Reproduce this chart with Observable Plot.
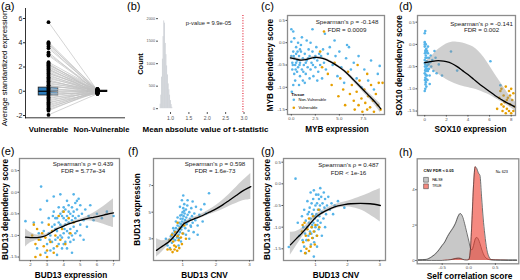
<!DOCTYPE html>
<html>
<head>
<meta charset="utf-8">
<script src="https://cdn.jsdelivr.net/npm/d3@7"></script>
<script src="https://cdn.jsdelivr.net/npm/@observablehq/plot@0.6"></script>
<style>
html,body{margin:0;padding:0;background:#fff;}
#fig{position:relative;width:520px;height:280px;overflow:hidden;font-family:"Liberation Sans",Arial,sans-serif;}
.tag{position:absolute;font-size:11px;line-height:11px;color:#000;white-space:nowrap;}
</style>
</head>
<body>
<div id="fig"></div>
<script>
// ---------- (a) paired expression ----------
const aCategories = ["Vulnerable", "Non-Vulnerable"];
const aVulnerable = [5.7, 4.05, 3.95, 3.85, 3.7, 3.55, 3.2, 3.05, 2.95, 2.4, 2.3, 2.2, 2.15, 2.05, 1.95, 1.85, 1.8, 1.7, 1.6, 1.5, 1.45, 1.35, 1.25, 1.15, 1.05, 0.95, 0.85, 0.8, 0.7, 0.6, 0.5, 0.45, 0.35, 0.25, 0.15, 0.05, -0.05, -0.15, -0.2, -0.3, -0.4, -0.5, -0.6, -0.7, -0.8, -0.9, -1.0, -1.1, -1.2, -1.3, -1.4, -1.5, -1.6, -1.95];
const aNonVulnerable = [0.05, 0.1, -0.05, 0.15, 0.0, 0.08, -0.1, 0.12, 0.02, 0.18, -0.15, 0.06, 0.2, -0.02, 0.1, -0.2, 0.04, 0.14, -0.08, 0.0, 0.16, -0.12, 0.07, -0.04, 0.11, -0.18, 0.03, 0.09, -0.06, 0.13, -0.1, 0.01, 0.17, -0.14, 0.05, -0.03, 0.08, -0.22, 0.12, -0.01, 0.06, -0.16, 0.1, -0.07, 0.02, -0.19, 0.15, -0.05, 0.0, -0.12, 0.09, -0.09, 0.04, -0.2];
const aBoxQ1 = [-0.35, -0.05];
const aBoxMedian = [0.0, 0.0];
const aBoxQ3 = [0.3, 0.04];
const aYTicks = [-2, 0, 2, 4, 6];
const aYTitle = "Average standardized expression";

// ---------- (b) histogram ----------
const bBinStart = [0.72, 0.74, 0.76, 0.78, 0.80, 0.82, 0.84, 0.86, 0.88, 0.90, 0.92, 0.94, 0.96, 0.98, 1.00, 1.02, 1.04];
const bBinEnd   = [0.74, 0.76, 0.78, 0.80, 0.82, 0.84, 0.86, 0.88, 0.90, 0.92, 0.94, 0.96, 0.98, 1.00, 1.02, 1.04, 1.06];
const bCounts   = [100, 300, 700, 1100, 1600, 1950, 1900, 1450, 1200, 950, 750, 550, 420, 300, 180, 90, 30];
const bObserved = [2.97];
const bPValue = "p-value = 9.9e-05";
const bXTicks = [1, 1.5, 2, 2.5, 3];
const bYTicks = [0, 500, 1000, 1500, 2000];

// ---------- (c) MYB ----------
const cBlue = [[0.0,-0.3],[0.1,-0.45],[0.2,-0.2],[0.1,-0.6],[0.3,-0.35],[0.2,0.25],[0.0,0.02],[0.4,-0.5],[0.5,-0.25],[0.3,-0.7],[0.6,-0.4],[0.5,-0.1],[0.7,-0.55],[0.8,-0.3],[0.6,-0.65],[0.9,-0.45],[1.0,-0.2],[1.1,-0.6],[0.9,-0.75],[1.2,-0.35],[1.3,-0.5],[1.0,-0.05],[1.4,-0.25],[1.5,-0.7],[1.6,-0.4],[1.2,-0.85],[1.7,-0.55],[1.8,-0.15],[1.9,-0.3],[2.0,-0.6],[2.1,-0.45],[1.6,0.05],[2.2,-0.2],[2.3,-0.75],[2.4,-0.35],[2.5,-0.55],[2.6,-0.1],[2.7,-0.4],[2.8,-0.65],[2.9,-0.25],[3.0,-0.5],[3.1,-0.3],[3.2,-0.8],[3.3,-0.15],[3.4,-0.45],[3.6,-0.6],[3.8,-0.25],[0.4,-0.85],[0.2,-0.95],[0.8,-0.95],[1.4,-0.9],[0.05,-1.1],[0.3,0.1],[0.7,0.0],[1.1,0.12],[2.0,0.0],[0.5,-0.45],[1.5,-0.45],[2.5,-0.3],[0.15,-0.5],[0.9,-0.15],[1.9,-0.8],[2.7,-0.85],[0.25,-0.3],[0.65,-0.2],[1.25,-0.65],[1.75,-0.35],[2.25,-0.5],[0.45,-0.6],[0.85,-0.5],[4.0,-0.1],[4.3,-0.5],[4.6,-0.3],[4.8,-0.75],[5.0,-0.2],[5.2,-0.55],[5.5,-0.9],[5.7,-0.35],[6.0,-0.1],[6.2,-0.6],[6.5,-0.45],[6.8,-0.8],[7.0,-0.3],[7.3,-1.0],[7.6,-0.6],[8.0,-0.85],[8.3,-0.4],[8.6,-1.05],[9.0,-0.7],[9.2,-0.52],[3.5,0.2],[4.5,0.05],[5.8,-0.05],[2.2,0.3],[0.0,0.3]];
const cOrange = [[3.2,-0.55],[3.8,-0.7],[4.2,-0.95],[4.5,-0.45],[4.9,-1.2],[5.1,-0.8],[5.4,-1.05],[5.6,-1.4],[5.9,-0.65],[6.1,-1.15],[6.3,-0.95],[6.5,-1.3],[6.6,-1.5],[6.8,-1.1],[7.0,-1.4],[7.1,-0.85],[7.3,-1.25],[7.4,-1.55],[7.6,-1.05],[7.7,-1.35],[7.9,-1.5],[8.0,-1.2],[8.2,-1.45],[8.3,-0.95],[8.5,-1.3],[8.6,-1.55],[8.8,-1.15],[9.0,-1.4],[9.1,-0.9],[9.3,-1.5],[9.5,-0.9],[7.9,-0.7],[6.9,-0.5],[3.0,-0.2],[3.4,0.25]];
const cSmoothX = [-0.1, 0.5, 1.0, 1.5, 2.0, 2.5, 3.0, 3.5, 4.0, 4.5, 5.0, 5.5, 6.0, 6.5, 7.0, 7.5, 8.0, 8.5, 9.0, 9.3];
const cSmoothY = [-0.34, -0.37, -0.39, -0.38, -0.35, -0.33, -0.34, -0.37, -0.42, -0.48, -0.55, -0.63, -0.73, -0.84, -0.95, -1.06, -1.17, -1.28, -1.4, -1.48];
const cLower = [-0.39, -0.40, -0.415, -0.405, -0.375, -0.355, -0.365, -0.395, -0.445, -0.51, -0.58, -0.665, -0.77, -0.885, -1.0, -1.115, -1.23, -1.35, -1.485, -1.58];
const cUpper = [-0.29, -0.34, -0.365, -0.355, -0.325, -0.305, -0.315, -0.345, -0.395, -0.45, -0.52, -0.595, -0.69, -0.795, -0.9, -1.005, -1.11, -1.21, -1.315, -1.38];
const cStats = ["Spearman's \u03c1 = -0.148", "FDR = 0.0009"];
const cTitles = ["MYB expression", "MYB dependency score"];
const legendTitle = "Tissue";
const legendLabels = ["Non-Vulnerable", "Vulnerable"];

// ---------- (d) SOX10 ----------
const dBlue = [[0.0,-0.05],[0.05,-0.15],[0.1,-0.25],[0.0,-0.35],[0.05,-0.45],[0.1,-0.55],[0.0,-0.65],[0.05,-0.75],[0.1,-0.85],[0.15,-0.1],[0.2,-0.3],[0.15,-0.5],[0.2,-0.7],[0.25,-0.4],[0.3,-0.2],[0.3,-0.6],[0.35,-0.45],[0.4,-0.3],[0.4,-0.55],[0.5,-0.4],[0.0,0.0],[0.02,-0.2],[0.07,-0.3],[0.12,-0.4],[0.02,-0.5],[0.07,-0.6],[0.12,-0.7],[0.02,-0.8],[0.07,-0.9],[0.17,-0.6],[0.22,-0.15],[0.27,-0.55],[0.0,0.05],[0.1,0.0],[0.05,0.3],[0.0,0.25],[0.15,-0.95],[0.0,-1.05],[0.6,-0.5],[0.7,-0.35],[0.8,-0.6],[0.45,-0.7],[0.55,-0.25],[0.25,-0.8],[0.05,-1.0],[0.3,-0.05],[0.12,-0.18],[0.18,-0.38],[0.08,-0.68],[0.22,-0.48],[0.46,-0.89],[0.0,-0.42],[0.05,-0.58],[0.1,-0.12],[0.15,-0.78],[1.0,-0.3],[1.3,-0.45],[1.6,-0.7],[2.43,-0.16],[3.0,-0.59],[6.08,-0.38],[7.0,-0.92],[1.1,-0.65],[0.9,-0.15]];
const dOrange = [[6.9,-1.2],[7.0,-1.05],[7.1,-1.35],[7.2,-1.5],[7.3,-1.15],[7.4,-1.3],[7.5,-0.95],[7.6,-1.45],[7.7,-1.2],[7.8,-1.05],[7.9,-1.35],[8.0,-1.55],[8.1,-1.25],[8.2,-1.1],[8.3,-1.4],[7.5,-1.55],[7.8,-1.5],[7.3,-1.4],[8.0,-1.0],[7.6,-1.25],[6.7,-1.45],[8.2,-1.5],[7.1,-1.0],[7.9,-1.15]];
const dSmoothX = [0, 0.5, 1, 1.5, 2, 2.5, 3, 3.5, 4, 4.5, 5, 5.5, 6, 6.5, 7, 7.5, 8, 8.4];
const dSmoothY = [-0.41, -0.39, -0.37, -0.37, -0.39, -0.43, -0.5, -0.59, -0.68, -0.78, -0.88, -0.97, -1.06, -1.15, -1.23, -1.3, -1.36, -1.41];
const dUpper = [-0.4, -0.3, -0.17, -0.07, 0.01, 0.05, 0.05, 0.03, -0.01, -0.06, -0.16, -0.3, -0.48, -0.67, -0.85, -1.03, -1.2, -1.3];
const dLower = [-0.44, -0.53, -0.62, -0.71, -0.79, -0.85, -0.9, -0.94, -0.97, -1.0, -1.04, -1.09, -1.14, -1.21, -1.28, -1.35, -1.43, -1.5];
const dStats = ["Spearman's \u03c1 = -0.141", "FDR = 0.002"];
const dTitles = ["SOX10 expression", "SOX10 dependency score"];

// ---------- (e) BUD13 expression vs dependency ----------
const eBlue = [[3.0,-1.2],[3.2,-1.0],[3.3,-0.8],[3.4,-1.3],[3.5,-0.6],[3.5,-1.1],[3.6,-0.9],[3.7,-0.7],[3.7,-1.2],[3.8,-0.5],[3.8,-1.0],[3.9,-0.8],[3.9,-1.3],[4.0,-0.6],[4.0,-0.95],[4.1,-0.4],[4.1,-0.75],[4.1,-1.15],[4.2,-0.55],[4.2,-0.9],[4.3,-0.3],[4.3,-0.7],[4.3,-1.05],[4.4,-0.5],[4.4,-0.85],[4.5,-0.35],[4.5,-0.65],[4.5,-1.0],[4.6,-0.45],[4.6,-0.8],[4.7,-0.25],[4.7,-0.6],[4.8,-0.4],[4.8,-0.9],[4.9,-0.55],[5.0,-0.3],[5.0,-0.75],[5.1,-0.5],[5.2,-0.65],[5.3,-0.4],[2.8,-0.9],[2.9,-1.4],[3.1,-0.6],[3.2,-1.35],[3.4,-0.45],[3.6,-1.45],[2.6,-1.1],[2.7,-0.7],[3.3,-1.15],[3.5,-0.85],[3.7,-0.35],[3.8,-0.75],[3.9,-0.55],[4.0,-1.2],[4.2,-0.2],[4.2,-1.3],[4.4,-1.15],[4.6,-1.1],[4.8,-0.2],[5.0,-1.0],[5.4,-0.8],[5.5,-0.55],[5.6,-0.3],[5.8,-0.65],[6.0,-0.5],[6.3,-0.6],[6.6,-0.45],[7.0,-0.55],[2.2,-0.7],[2.4,-1.3],[2.5,-0.95],[2.6,-0.4],[2.64,0.13],[3.0,-0.2],[3.4,-0.1],[3.8,-0.05],[4.5,-1.4],[5.2,-1.1],[4.0,-0.35],[4.6,-0.05],[4.9,-0.15],[3.1,-0.95],[3.6,-0.6],[4.3,-0.45],[4.7,-0.95],[3.9,-1.05],[1.7,-0.67],[3.35,-0.55],[3.65,-1.05],[4.15,-0.65],[4.55,-0.55],[4.05,-0.85],[3.45,-0.75],[3.95,-0.45],[4.35,-0.95],[3.15,-1.1]];
const eOrange = [[2.1,-1.0],[2.3,-1.2],[2.4,-0.85],[2.5,-1.1],[2.6,-1.45],[2.7,-0.95],[2.8,-1.25],[2.9,-1.05],[3.0,-1.35],[3.1,-0.75],[3.2,-1.15],[3.3,-0.9],[3.4,-1.4],[3.5,-1.0],[3.6,-1.25],[3.7,-0.55],[3.8,-1.1],[3.9,-0.85],[4.1,-1.2],[4.3,-0.6],[4.4,-0.95],[4.6,-0.7],[2.3,-1.5],[3.0,-1.5],[4.0,-0.45],[2.2,-0.75]];
const eSmoothX = [1.7, 2.0, 2.4, 2.8, 3.0, 3.3, 3.6, 3.9, 4.2, 4.6, 5.0, 5.4, 5.8, 6.2, 6.6, 7.0];
const eSmoothY = [-1.04, -1.05, -1.05, -1.02, -0.99, -0.92, -0.85, -0.8, -0.75, -0.7, -0.65, -0.61, -0.58, -0.55, -0.51, -0.48];
const eUpper = [-0.85, -0.93, -0.99, -0.98, -0.96, -0.89, -0.82, -0.77, -0.72, -0.67, -0.62, -0.56, -0.48, -0.38, -0.27, -0.15];
const eLower = [-1.27, -1.17, -1.11, -1.06, -1.02, -0.95, -0.88, -0.83, -0.78, -0.73, -0.68, -0.66, -0.68, -0.72, -0.77, -0.82];
const eStats = ["Spearman's \u03c1 = 0.439", "FDR = 5.77e-34"];
const eTitles = ["BUD13 expression", "BUD13 dependency score"];

// ---------- (f) BUD13 CNV vs expression ----------
const fBlue = [[0.60,2.9],[0.65,3.2],[0.68,2.7],[0.70,3.4],[0.72,3.0],[0.75,3.6],[0.77,3.3],[0.78,2.9],[0.80,3.8],[0.82,3.5],[0.83,3.1],[0.85,4.0],[0.87,3.7],[0.88,3.3],[0.90,4.2],[0.91,3.9],[0.92,3.5],[0.94,4.5],[0.95,4.1],[0.96,3.7],[0.97,4.8],[0.98,4.3],[0.99,3.9],[1.00,5.0],[1.00,4.5],[1.01,4.0],[1.02,5.3],[1.03,4.7],[1.04,4.2],[1.05,5.6],[1.06,4.9],[1.07,4.4],[1.08,3.8],[1.10,5.2],[1.11,4.6],[1.12,4.1],[1.14,5.5],[1.15,4.8],[1.17,4.3],[1.18,3.6],[1.20,5.0],[1.22,4.5],[1.24,4.0],[1.26,5.3],[1.28,4.7],[1.30,4.2],[1.33,3.5],[1.35,4.9],[1.38,4.4],[1.40,5.4],[1.45,4.0],[1.50,4.8],[1.55,5.2],[1.60,4.3],[1.65,5.6],[1.79,6.42],[1.70,4.9],[0.55,2.5],[0.62,2.3],[0.72,3.8],[0.85,4.6],[0.92,5.4],[0.98,5.9],[1.02,3.4],[1.10,3.3],[1.2,3.0],[1.25,3.9],[0.95,2.8],[0.88,2.5],[1.02,6.25],[1.3,5.8],[0.5,3.0],[1.45,3.3],[0.93,4.75],[1.05,5.1],[0.9,3.05],[1.15,5.9],[0.8,4.3]];
const fOrange = [[0.55,2.2],[0.64,2.2],[0.76,2.2],[0.72,2.8],[0.70,2.0],[0.78,3.5],[0.80,2.4],[0.84,2.1],[0.85,3.2],[0.88,2.9],[0.90,2.3],[0.92,3.8],[0.95,3.1],[0.98,2.6],[1.00,3.4],[1.05,4.0],[0.68,3.3],[0.62,2.9],[0.85,4.2],[1.1,3.0],[0.75,2.5]];
const fSmoothX = [0.22, 0.4, 0.6, 0.8, 0.95, 1.05, 1.2, 1.4, 1.6, 1.8, 2.0, 2.2, 2.4, 2.6, 2.8, 3.04];
const fSmoothY = [2.13, 2.45, 2.8, 3.35, 3.85, 4.15, 4.35, 4.55, 4.75, 5.0, 5.25, 5.55, 5.9, 6.25, 6.6, 6.92];
const fUpper = [3.0, 2.85, 3.0, 3.5, 3.97, 4.27, 4.47, 4.67, 4.9, 5.18, 5.5, 5.9, 6.35, 6.85, 7.35, 7.9];
const fLower = [1.62, 2.05, 2.6, 3.2, 3.73, 4.03, 4.23, 4.43, 4.6, 4.82, 5.0, 5.2, 5.45, 5.65, 5.85, 5.95];
const fStats = ["Spearman's \u03c1 = 0.598", "FDR = 1.6e-73"];
const fTitles = ["BUD13 CNV", "BUD13 expression"];

// ---------- (g) BUD13 CNV vs dependency ----------
const gBlue = [[0.60,-1.3],[0.62,-1.0],[0.65,-1.45],[0.68,-1.15],[0.70,-0.85],[0.72,-1.3],[0.74,-1.0],[0.76,-0.7],[0.78,-1.2],[0.80,-0.9],[0.82,-0.55],[0.83,-1.1],[0.85,-0.8],[0.86,-1.4],[0.88,-0.45],[0.89,-1.0],[0.90,-0.7],[0.92,-1.25],[0.93,-0.35],[0.94,-0.9],[0.95,-0.6],[0.97,-1.1],[0.98,-0.8],[1.00,-0.5],[1.00,-1.0],[1.02,-0.25],[1.03,-0.7],[1.04,-1.2],[1.05,-0.45],[1.07,-0.85],[1.08,-0.6],[1.10,-1.05],[1.11,-0.35],[1.12,-0.75],[1.14,-0.5],[1.16,-0.9],[1.18,-0.3],[1.20,-0.65],[1.22,-0.45],[1.25,-0.8],[1.28,-0.55],[1.30,-0.35],[1.33,-0.7],[1.36,-0.5],[1.40,-0.3],[1.45,-0.6],[1.50,-0.45],[1.55,-0.7],[1.6,-0.5],[1.7,-0.4],[0.38,0.12],[0.55,-1.55],[0.5,-1.2],[0.45,-0.9],[0.7,-1.6],[0.95,-1.68],[1.05,-1.45],[1.2,-1.2],[0.85,-0.2],[0.95,-0.15],[1.15,-0.1],[1.3,-1.0],[0.65,-0.6],[0.75,-0.4],[0.58,-0.75],[0.96,-1.35],[1.09,-0.25],[1.26,-0.2],[0.17,-1.46],[0.9,-0.95],[1.0,-0.75],[0.8,-0.65],[1.06,-0.95],[0.87,-1.15],[1.13,-0.6],[1.9,-0.55]];
const gOrange = [[0.58,-1.1],[0.62,-1.35],[0.66,-0.9],[0.70,-1.2],[0.72,-1.5],[0.75,-1.05],[0.78,-1.3],[0.80,-0.8],[0.83,-1.15],[0.85,-1.45],[0.88,-1.0],[0.90,-1.25],[0.93,-0.75],[0.95,-1.1],[0.98,-1.4],[1.0,-0.95],[1.05,-1.2],[1.1,-0.6],[1.12,-1.0],[0.68,-1.6],[0.8,-1.55],[0.6,-0.95]];
const gSmoothX = [0.22, 0.4, 0.6, 0.8, 0.95, 1.1, 1.3, 1.5, 1.7, 1.9, 2.1, 2.4, 2.7, 3.02];
const gSmoothY = [-1.41, -1.27, -1.12, -0.95, -0.82, -0.72, -0.63, -0.56, -0.51, -0.48, -0.46, -0.45, -0.46, -0.5];
const gUpper = [-1.12, -1.1, -1.02, -0.88, -0.76, -0.66, -0.58, -0.51, -0.46, -0.42, -0.38, -0.3, -0.21, -0.11];
const gLower = [-1.65, -1.44, -1.22, -1.02, -0.88, -0.78, -0.68, -0.61, -0.56, -0.54, -0.54, -0.6, -0.72, -0.88];
const gStats = ["Spearman's \u03c1 = 0.487", "FDR < 1e-16"];
const gTitles = ["BUD13 CNV", "BUD13 dependency score"];

// ---------- (h) densities ----------
const hX     = [-0.95, -0.8, -0.7, -0.6, -0.5, -0.45, -0.4, -0.35, -0.3, -0.25, -0.2, -0.16, -0.12, -0.08, -0.04, 0.0, 0.03, 0.06, 0.09, 0.12, 0.15, 0.18, 0.21, 0.24, 0.27, 0.3, 0.34, 0.38, 0.42, 0.5, 0.6, 0.75, 0.9];
const hFalse = [0.04, 0.06, 0.2, 0.45, 0.85, 1.05, 1.35, 1.6, 1.82, 2.1, 2.5, 2.65, 2.5, 2.1, 1.6, 1.1, 0.7, 0.6, 0.85, 1.2, 1.3, 1.2, 0.95, 0.65, 0.4, 0.22, 0.1, 0.05, 0.03, 0.03, 0.03, 0.03, 0.03];
const hTrue  = [0, 0, 0, 0, 0, 0.01, 0.02, 0.04, 0.07, 0.11, 0.13, 0.12, 0.07, 0.03, 0.02, 0.05, 0.6, 2.3, 4.3, 5.3, 5.2, 4.95, 4.8, 3.6, 2.4, 1.5, 0.6, 0.2, 0.05, 0.02, 0.01, 0, 0];
const hLegendTitle = "CNV FDR < 0.05";
const hGroups = ["FALSE", "TRUE"];
const hN = "N= 623";
const hXTitle = "Self correlation score";

// ---------- layout / drawing ----------
const FONT = "'Liberation Sans', Arial, Helvetica, sans-serif";
const BLUE = "#56B4E9", ORANGE = "#E69F00";
const fmt1 = d => d.toFixed(1), fmt0 = d => String(d);
const px = d => d[0], py = d => d[1];
const C = {textAnchor: "middle", lineAnchor: "middle"};
const L = {textAnchor: "start", lineAnchor: "middle"};
const fig = document.getElementById("fig");
function sty(fs, color) { return {background: "transparent", fontFamily: FONT, fontSize: fs + "px", color, overflow: "visible"}; }
function place(node, left, top) {
  node.style.position = "absolute"; node.style.left = left + "px"; node.style.top = top + "px";
  fig.appendChild(node);
}
function tag(t, left, top) {
  const d = document.createElement("div"); d.className = "tag"; d.textContent = t;
  d.style.left = left + "px"; d.style.top = top + "px"; fig.appendChild(d);
}

// (a)
{
  const idx = aVulnerable.map((_, i) => i);
  const svg = Plot.plot({
    width: 124, height: 140, marginLeft: 25, marginRight: 0, marginTop: 8, marginBottom: 22.7,
    style: sty(7, "#222"),
    x: {domain: [1, 2], range: [48, 97], axis: null},
    y: {domain: [-2, 6], range: [115, 18]},
    marks: [
      Plot.rect([0], {x1: i => i + 0.8, x2: i => i + 1.2, y1: i => aBoxQ1[i], y2: i => aBoxQ3[i], fill: "#2b7bba", stroke: "#1a1a1a", strokeWidth: 0.8}),
      Plot.rect([1], {x1: i => i + 0.8, x2: i => i + 1.2, y1: i => aBoxQ1[i], y2: i => aBoxQ3[i], fill: "#fff", stroke: "#000", strokeWidth: 1}),
      Plot.ruleY([0, 1], {y: i => aBoxMedian[i], x1: i => i + 0.8, x2: i => i + 1.2, stroke: "#000", strokeWidth: 1.2}),
      Plot.link(idx, {x1: 1, y1: i => aVulnerable[i], x2: 2, y2: i => aNonVulnerable[i], stroke: "#c2c2c2", strokeWidth: 0.7}),
      Plot.dot(idx, {x: 1, y: i => aVulnerable[i], r: 1.9, fill: "#000"}),
      Plot.dot(idx, {x: 2, y: i => aNonVulnerable[i], r: 1.9, fill: "#000"}),
      Plot.frame({anchor: "left", stroke: "#000", strokeWidth: 0.8}),
      Plot.frame({anchor: "bottom", stroke: "#000", strokeWidth: 0.8}),
      Plot.axisY({ticks: aYTicks, tickFormat: fmt0, tickSize: 2, tickPadding: 1, label: null}),
      Plot.text([aCategories[0]], {x: 1, frameAnchor: "bottom", dy: 12, fontSize: 7.8, fontWeight: "bold", fill: "#000", ...C}),
      Plot.text([aCategories[1]], {x: 2, frameAnchor: "bottom", dx: 4, dy: 12, fontSize: 7.6, fontWeight: "bold", fill: "#000", ...C}),
      Plot.text([aYTitle], {frameAnchor: "left", rotate: -90, dx: -21, dy: 5.4, fontSize: 7.8, fill: "#000", ...C})
    ]
  });
  place(svg, 0, 0);
}

// (b)
{
  const idx = bCounts.map((_, i) => i);
  const svg = Plot.plot({
    width: 130, height: 140, marginLeft: 33, marginRight: 10, marginTop: 15, marginBottom: 28,
    style: sty(3.8, "#555"),
    x: {domain: [0.673, 3.04]}, y: {domain: [-85, 2070]},
    marks: [
      Plot.rect(idx, {x1: i => bBinStart[i], x2: i => bBinEnd[i], y1: 0, y2: i => bCounts[i], fill: "#c6cad0"}),
      Plot.ruleX(bObserved, {stroke: "#e0182d", strokeWidth: 1.1, strokeDasharray: "1,1.6"}),
      Plot.axisX({ticks: bXTicks, tickFormat: fmt1, tickSize: 2, tickPadding: 1.5, fontSize: 5, label: null}),
      Plot.axisY({ticks: bYTicks, tickFormat: fmt0, tickSize: 2, tickPadding: 1.5, label: null}),
      Plot.text([bPValue], {frameAnchor: "top-right", dx: -37, dy: 8, fontSize: 5.8, fill: "#1a1a1a", ...C}),
      Plot.text(["Count"], {frameAnchor: "left", rotate: -90, dx: -18, fontSize: 7.5, fontWeight: "bold", fill: "#000", ...C}),
      Plot.text(["Mean absolute value of t-statistic"], {frameAnchor: "bottom", dx: 3.5, dy: 17.3, fontSize: 8, fontWeight: "bold", fill: "#000", ...C})
    ]
  });
  place(svg, 125, 0);
}

function scatter(o) {
  const idx = o.sx.map((_, i) => i);
  const marks = [
    Plot.dot(o.blue, {x: px, y: py, r: 1.3, fill: BLUE, clip: true}),
    Plot.dot(o.orange, {x: px, y: py, r: 1.3, fill: ORANGE, clip: true}),
    Plot.areaY(idx, {x: i => o.sx[i], y1: i => o.lo[i], y2: i => o.hi[i], fill: "#8c8c8c", fillOpacity: 0.42, curve: "catmull-rom"}),
    Plot.line(idx, {x: i => o.sx[i], y: i => o.sy[i], stroke: "#000", strokeWidth: 1.3, curve: "catmull-rom"}),
    Plot.frame({stroke: "#8c8c8c", strokeWidth: 1.3}),
    Plot.axisX({ticks: o.xt, tickFormat: o.xf, tickSize: 1.5, tickPadding: 1, label: null}),
    Plot.axisY({ticks: o.yt, tickFormat: o.yf, tickSize: 1.5, tickPadding: 1, label: null}),
    Plot.text([o.titles[1]], {frameAnchor: "left", rotate: -90, dx: o.ytdx, fontSize: 8.2, fontWeight: "bold", fill: "#000", ...C}),
    Plot.text([o.titles[0]], {frameAnchor: "bottom", dx: o.xtdx || 0, dy: o.xtdy, fontSize: 8.2, fontWeight: "bold", fill: "#000", ...C}),
    Plot.text([o.stats[0]], {frameAnchor: "top-right", dx: -o.adx, dy: o.ady[0], fontSize: 6.2, fill: "#1a1a1a", ...C}),
    Plot.text([o.stats[1]], {frameAnchor: "top-right", dx: -o.adx, dy: o.ady[1], fontSize: 6.2, fill: "#1a1a1a", ...C})
  ];
  if (o.legend) {
    marks.push(
      Plot.text([legendTitle], {frameAnchor: "bottom-left", dx: 3.7, dy: -20, fontSize: 4.2, fontWeight: "bold", fill: "#000", ...L}),
      Plot.dot([0], {frameAnchor: "bottom-left", dx: 6.3, dy: -14.7, r: 1.3, fill: BLUE}),
      Plot.dot([0], {frameAnchor: "bottom-left", dx: 6.3, dy: -6.7, r: 1.3, fill: ORANGE}),
      Plot.text([legendLabels[0]], {frameAnchor: "bottom-left", dx: 11, dy: -14.7, fontSize: 4, fill: "#000", ...L}),
      Plot.text([legendLabels[1]], {frameAnchor: "bottom-left", dx: 11, dy: -6.7, fontSize: 4, fill: "#000", ...L})
    );
  }
  const svg = Plot.plot({
    width: o.w, height: o.h, marginLeft: o.ml, marginRight: o.mr, marginTop: o.mt, marginBottom: o.mb,
    style: sty(4.4, "#4d4d4d"),
    x: {domain: o.xd}, y: {domain: o.yd},
    marks
  });
  place(svg, o.left, o.top);
}

const depTicks = [-1.5, -1, -0.5, 0, 0.5];
scatter({left: 255, top: 0, w: 133, h: 140, ml: 32, mr: 4, mt: 15, mb: 26, xd: [-0.4, 9.7], yd: [-1.61, 0.61],
  xt: [0, 2.5, 5, 7.5], xf: fmt1, yt: depTicks, yf: fmt1, blue: cBlue, orange: cOrange,
  sx: cSmoothX, sy: cSmoothY, lo: cLower, hi: cUpper, titles: cTitles, stats: cStats,
  ytdx: -17, xtdx: 1, xtdy: 15.3, adx: 37.5, ady: [6.7, 15], legend: true});
scatter({left: 388, top: 0, w: 132, h: 140, ml: 29, mr: 5, mt: 15, mb: 25, xd: [-0.67, 8.4], yd: [-1.6, 0.65],
  xt: [0, 2, 4, 6, 8], xf: fmt0, yt: depTicks, yf: fmt1, blue: dBlue, orange: dOrange,
  sx: dSmoothX, sy: dSmoothY, lo: dLower, hi: dUpper, titles: dTitles, stats: dStats,
  ytdx: -17.7, xtdx: 4, xtdy: 14.3, adx: 34, ady: [8.3, 15]});
scatter({left: 0, top: 140, w: 125, h: 140, ml: 19, mr: 6, mt: 18, mb: 20, xd: [1.34, 7.36], yd: [-1.58, 0.78],
  xt: [2, 3, 4, 5, 6, 7], xf: fmt0, yt: depTicks, yf: fmt1, blue: eBlue, orange: eOrange,
  sx: eSmoothX, sy: eSmoothY, lo: eLower, hi: eUpper, titles: eTitles, stats: eStats,
  ytdx: -14, xtdx: 1.5, xtdy: 15.2, adx: 36.5, ady: [5.3, 12.7]});
scatter({left: 125, top: 140, w: 130, h: 140, ml: 28, mr: 2, mt: 18, mb: 20, xd: [0.13, 3.12], yd: [1.37, 9.03],
  xt: [1, 2, 3], xf: fmt0, yt: [3, 5, 7], yf: fmt0, blue: fBlue, orange: fOrange,
  sx: fSmoothX, sy: fSmoothY, lo: fLower, hi: fUpper, titles: fTitles, stats: fStats,
  ytdx: -16.3, xtdx: 1, xtdy: 15.2, adx: 38.5, ady: [5.3, 12.7]});
scatter({left: 255, top: 140, w: 133, h: 140, ml: 28, mr: 3, mt: 18, mb: 20, xd: [0.006, 3.18], yd: [-1.77, 0.585],
  xt: [1, 2, 3], xf: fmt0, yt: depTicks, yf: fmt1, blue: gBlue, orange: gOrange,
  sx: gSmoothX, sy: gSmoothY, lo: gLower, hi: gUpper, titles: gTitles, stats: gStats,
  ytdx: -16.3, xtdx: 1.5, xtdy: 15.2, adx: 37, ady: [7, 14.7]});

// (h)
{
  const idx = hX.map((_, i) => i);
  const svg = Plot.plot({
    width: 132, height: 140, marginLeft: 28.7, marginRight: 1.7, marginTop: 18.3, marginBottom: 16.7,
    style: sty(4.4, "#4d4d4d"),
    x: {domain: [-0.97, 0.94]}, y: {domain: [-0.19, 5.75]},
    marks: [
      Plot.areaY(idx, {x: i => hX[i], y1: 0, y2: i => hFalse[i], fill: "#9a9a9a", fillOpacity: 0.55, curve: "monotone-x"}),
      Plot.lineY(idx, {x: i => hX[i], y: i => hFalse[i], stroke: "#333", strokeWidth: 0.7, curve: "monotone-x"}),
      Plot.areaY(idx, {x: i => hX[i], y1: 0, y2: i => hTrue[i], fill: "#ee3b2b", fillOpacity: 0.6, curve: "monotone-x"}),
      Plot.lineY(idx, {x: i => hX[i], y: i => hTrue[i], stroke: "#333", strokeWidth: 0.7, curve: "monotone-x"}),
      Plot.frame({stroke: "#8c8c8c", strokeWidth: 1.3}),
      Plot.axisX({ticks: [-0.5, 0, 0.5], tickFormat: fmt1, tickSize: 1.5, tickPadding: 1, label: null}),
      Plot.axisY({ticks: [0, 2, 4], tickFormat: fmt0, tickSize: 1.5, tickPadding: 1, label: null}),
      Plot.text([hLegendTitle], {frameAnchor: "top-left", dx: 6.3, dy: 12.4, fontSize: 4, fontWeight: "bold", fill: "#000", ...L}),
      Plot.dot([0], {frameAnchor: "top-left", dx: 8.8, dy: 21, r: 2.7, symbol: "square", fill: "#c6c6c6", stroke: "#333", strokeWidth: 0.5}),
      Plot.dot([0], {frameAnchor: "top-left", dx: 8.8, dy: 27.5, r: 2.7, symbol: "square", fill: "#f5897f", stroke: "#333", strokeWidth: 0.5}),
      Plot.text([hGroups[0]], {frameAnchor: "top-left", dx: 15, dy: 21, fontSize: 3.4, fill: "#000", ...L}),
      Plot.text([hGroups[1]], {frameAnchor: "top-left", dx: 15, dy: 27.5, fontSize: 3.4, fill: "#000", ...L}),
      Plot.text([hN], {frameAnchor: "top-right", dx: -17, dy: 13, fontSize: 3.8, fill: "#000", ...C}),
      Plot.text([hXTitle], {frameAnchor: "bottom", dx: 1.5, dy: 12.2, fontSize: 8.4, fontWeight: "bold", fill: "#000", ...C})
    ]
  });
  place(svg, 388, 140);
}

tag("(a)", 1, 1); tag("(b)", 127, 1); tag("(c)", 261, 1); tag("(d)", 399, 1);
tag("(e)", 1, 146); tag("(f)", 128, 146); tag("(g)", 261, 146); tag("(h)", 399, 147);
</script>
</body>
</html>
